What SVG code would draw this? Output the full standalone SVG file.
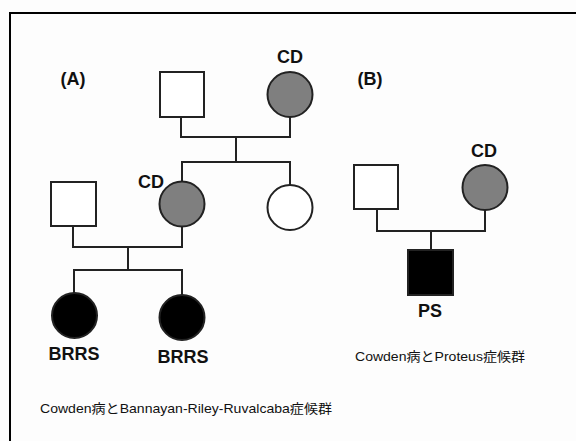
<svg xmlns="http://www.w3.org/2000/svg" width="576" height="441" viewBox="0 0 576 441">
<style>
.frame{fill:none;stroke:#000;stroke-width:2}
.sym{stroke:#222;stroke-width:2}
.white{fill:#fff}
.grey{fill:#7f7f7f}
.black{fill:#000}
.ln{fill:none;stroke:#222;stroke-width:2}
.lbl{font-family:"Liberation Sans",Arial,sans-serif;font-weight:bold;font-size:18px;fill:#111;text-anchor:middle}
.cap{font-family:"Liberation Sans","Noto Sans CJK JP",sans-serif;font-size:13px;fill:#111}
</style>
<rect width="576" height="441" fill="#fdfdfd"/>
<path class="frame" d="M10,441 V13 H576"/>
<text class="lbl" x="73" y="85" font-size="20">(A)</text>
<text class="lbl" x="370" y="85" font-size="20">(B)</text>
<g id="connectors">
<path class="ln" d="M181,117 V137 H290 V117"/>
<path class="ln" d="M236,137 V162"/>
<path class="ln" d="M182,182 V162 H290 V185"/>
<path class="ln" d="M73,226 V247 H182 V226"/>
<path class="ln" d="M128,247 V270"/>
<path class="ln" d="M74,293 V270 H182 V295"/>
<path class="ln" d="M377,209 V231 H485 V210"/>
<path class="ln" d="M431,231 V250"/>
</g>
<g id="A_gf"><rect class="sym white" x="160" y="72" width="44" height="45"/></g>
<g id="A_gm"><circle class="sym grey" cx="290" cy="94.5" r="22.5"/><text class="lbl" x="290" y="63">CD</text></g>
<g id="A_f"><rect class="sym white" x="51" y="182" width="45" height="44"/></g>
<g id="A_m"><circle class="sym grey" cx="182" cy="204" r="22.5"/><text class="lbl" x="151" y="188">CD</text></g>
<g id="A_sib"><circle class="sym white" cx="290" cy="207.5" r="22.5"/></g>
<g id="A_c1"><circle class="sym black" cx="74.5" cy="315.5" r="22.5"/><text class="lbl" x="74" y="360">BRRS</text></g>
<g id="A_c2"><circle class="sym black" cx="182" cy="317.5" r="22.5"/><text class="lbl" x="183" y="363">BRRS</text></g>
<g id="B_f"><rect class="sym white" x="354" y="165" width="44" height="44"/></g>
<g id="B_m"><circle class="sym grey" cx="485" cy="187.5" r="22.5"/><text class="lbl" x="484" y="157">CD</text></g>
<g id="B_c"><rect class="sym black" x="408" y="250" width="45" height="45"/><text class="lbl" x="430" y="317">PS</text></g>
<text class="cap" x="40" y="413" textLength="292" lengthAdjust="spacingAndGlyphs">Cowden病とBannayan-Riley-Ruvalcaba症候群</text>
<text class="cap" x="355" y="361" textLength="170" lengthAdjust="spacingAndGlyphs">Cowden病とProteus症候群</text>
</svg>
